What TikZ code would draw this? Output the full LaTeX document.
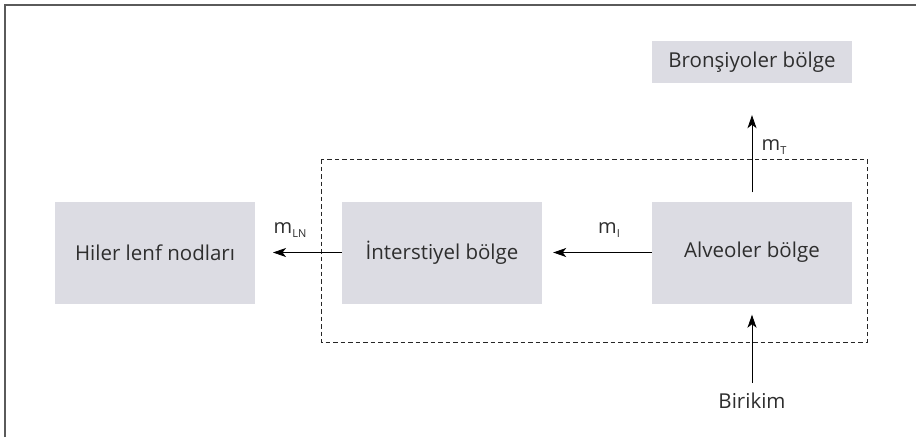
\documentclass[tikz,border=0pt]{standalone}
\usepackage{fontspec}
\setmainfont{Open Sans}
\usetikzlibrary{arrows.meta}
\definecolor{boxfill}{HTML}{DCDCE3}
\definecolor{ink}{HTML}{2E2E2E}
\definecolor{framegray}{HTML}{5A5A5A}
% rate symbol with a lowered subscript
\newcommand{\rate}[1]{m\raisebox{-4pt}{\fontsize{11}{12}\selectfont #1}}
\begin{document}
\begin{tikzpicture}[x=1pt,y=-1pt,
  region/.style={fill=boxfill,draw=none,minimum width=200pt,minimum height=102pt,
    inner sep=0pt,font=\fontsize{20.5}{24}\selectfont,text=ink},
  flow/.style={draw=black,line width=0.8pt,-{Stealth[length=13pt,width=9pt,inset=3.5pt]}},
  flowlabel/.style={font=\fontsize{20}{24}\selectfont,text=ink,inner sep=0pt},
  boundary/.style={draw=black!85,line width=0.8pt,dash pattern=on 4.5pt off 3pt}]
  % canvas
  \useasboundingbox (0,0) rectangle (916,437);
  \fill[white] (0,0) rectangle (916,437);
  \draw[framegray,line width=1.6pt] (5,437) -- (5,5) -- (916,5);

  % compartments
  \node[region] (hiler) at (155,252.5) {Hiler lenf nodları};
  \node[region] (inter) at (442,252.5) {İnterstiyel bölge};
  \node[region] (alv) at (752,252.5) {Alveoler bölge};
  \node[region,minimum height=42pt] (bron) at (752,62) {Bronşiyoler bölge};
  \node[font=\fontsize{20.5}{24}\selectfont,text=ink,inner sep=0pt] (bir) at (752,401) {Birikim};

  % lung boundary
  \draw[boundary] (321,159) rectangle (867,342);

  % clearance paths
  \coordinate (lnend) at (273,252.5);
  \draw[flow] (inter.west) -- (lnend);
  \draw[flow,shorten >=11pt] (alv.west) -- (inter.east);
  \draw[flow,shorten <=9pt,shorten >=32pt] (alv.north) -- (bron.south);
  \draw[flow,shorten <=10pt,shorten >=11pt] (bir.north) -- (alv.south);

  % rate labels
  \node[flowlabel] (mln) at (290,230) {\rate{LN}};
  \node[flowlabel] (mi) at (609,230) {\rate{I}};
  \node[flowlabel] (mt) at (774,147) {\rate{T}};
\end{tikzpicture}
\end{document}
